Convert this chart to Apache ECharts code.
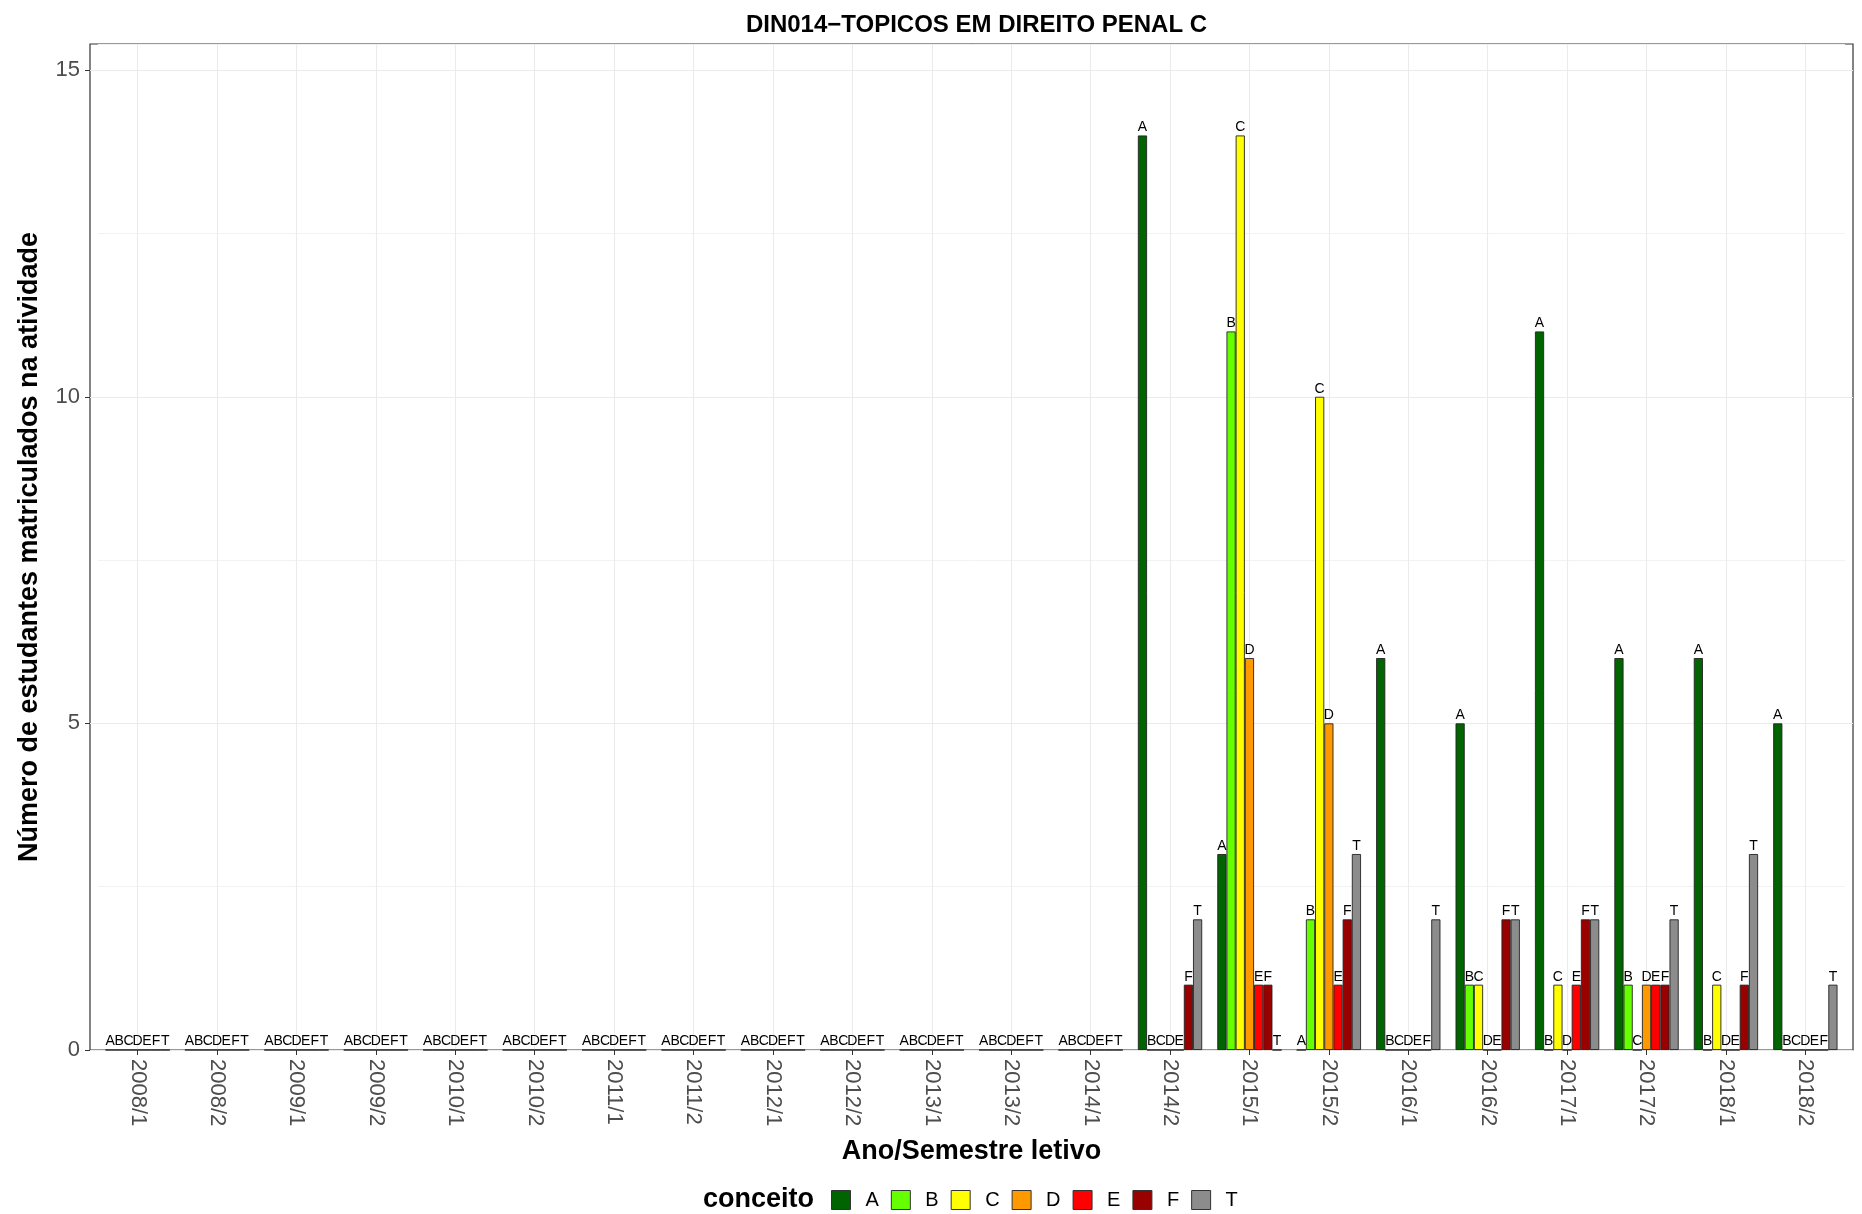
<!DOCTYPE html>
<html>
<head>
<meta charset="utf-8">
<script src="https://cdn.jsdelivr.net/npm/echarts@6/dist/echarts.min.js"></script>
<style>html,body{margin:0;padding:0;background:#fff}#c{width:1862px;height:1214px}</style>
</head>
<body>
<div id="c"></div>
<script>
const categories = ['2008/1','2008/2','2009/1','2009/2','2010/1','2010/2','2011/1','2011/2','2012/1','2012/2','2013/1','2013/2','2014/1','2014/2','2015/1','2015/2','2016/1','2016/2','2017/1','2017/2','2018/1','2018/2'];
const seriesNames = ['A','B','C','D','E','F','T'];
const seriesColors = ['#006400','#66FF00','#FFFF00','#FF9900','#FF0000','#990000','#8C8C8C'];
const valuesA = [0,0,0,0,0,0,0,0,0,0,0,0,0,14,3,0,6,5,11,6,6,5];
const valuesB = [0,0,0,0,0,0,0,0,0,0,0,0,0,0,11,2,0,1,0,1,0,0];
const valuesC = [0,0,0,0,0,0,0,0,0,0,0,0,0,0,14,10,0,1,1,0,1,0];
const valuesD = [0,0,0,0,0,0,0,0,0,0,0,0,0,0,6,5,0,0,0,1,0,0];
const valuesE = [0,0,0,0,0,0,0,0,0,0,0,0,0,0,1,1,0,0,1,1,0,0];
const valuesF = [0,0,0,0,0,0,0,0,0,0,0,0,0,1,1,2,0,2,2,1,1,0];
const valuesT = [0,0,0,0,0,0,0,0,0,0,0,0,0,2,0,3,2,2,2,2,3,1];
const yTicks = [0,5,10,15];
const chartTitle = 'DIN014\u2212TOPICOS EM DIREITO PENAL C';
const xTitle = 'Ano/Semestre letivo';
const yTitle = 'Número de estudantes matriculados na atividade';
const legendTitle = 'conceito';

const allValues = [valuesA,valuesB,valuesC,valuesD,valuesE,valuesF,valuesT];
const FONT = '"Liberation Sans", Arial, Helvetica, sans-serif';
const YMAX = 15.4;

// layout (ggplot-like panel with 0.6 category expansion)
const W = 1862;
const panelL = 90, panelR = 1853, panelT = 44, panelB = 1050;
const unit = (panelR - panelL) / (categories.length - 1 + 1.2);
const firstC = panelL + 0.6 * unit;
const lastC = firstC + (categories.length - 1) * unit;
const dataL = firstC - unit / 2, dataR = lastC + unit / 2;

const chart = echarts.init(document.getElementById('c'), null, {renderer: 'canvas'});

const series = seriesNames.map((n, i) => ({
  name: n,
  type: 'bar',
  xAxisIndex: 1,
  yAxisIndex: 1,
  data: allValues[i],
  barGap: '0%',
  barCategoryGap: '19%',
  itemStyle: {color: seriesColors[i], borderColor: '#222', borderWidth: 0.9},
  label: {
    show: true,
    position: 'top',
    distance: 1,
    formatter: () => n,
    color: '#000',
    fontSize: 14,
    fontFamily: FONT
  },
  emphasis: {disabled: true}
}));

chart.setOption({
  animation: false,
  backgroundColor: '#fff',
  textStyle: {fontFamily: FONT},
  title: [
    {text: chartTitle, left: (panelL + panelR) / 2, textAlign: 'center', top: 8,
     textStyle: {fontSize: 24, fontWeight: 'bold', color: '#000', fontFamily: FONT}},
    {text: legendTitle, left: 703, top: 1186, padding: 0,
     textStyle: {fontSize: 27, fontWeight: 'bold', color: '#000', fontFamily: FONT}}
  ],
  legend: {
    data: seriesNames,
    left: 831,
    top: 1190,
    padding: 0,
    itemWidth: 19,
    itemHeight: 19,
    itemGap: 12,
    icon: 'rect',
    itemStyle: {borderColor: '#333', borderWidth: 1},
    textStyle: {fontSize: 20, color: '#000', fontFamily: FONT, padding: [0, 0, 0, 10]},
    selectedMode: false
  },
  grid: [
    {left: panelL, right: W - panelR, top: panelT, bottom: 1214 - panelB, show: true,
     borderColor: '#333', borderWidth: 1.2, backgroundColor: 'transparent', containLabel: false},
    {left: dataL, right: W - dataR, top: panelT, bottom: 1214 - panelB, containLabel: false},
    {left: firstC, right: W - lastC, top: panelT, bottom: 1214 - panelB, containLabel: false}
  ],
  xAxis: [
    {gridIndex: 0, type: 'value', min: 0, max: 1, show: false},
    {gridIndex: 1, type: 'category', data: categories,
     axisLine: {show: false},
     axisTick: {show: true, alignWithLabel: true, length: 5, lineStyle: {color: '#333', width: 1}},
     axisLabel: {rotate: -90, margin: 9, fontSize: 22, color: '#4d4d4d', fontFamily: FONT, interval: 0},
     splitLine: {show: false},
     name: xTitle, nameLocation: 'middle', nameGap: 88,
     nameTextStyle: {fontSize: 27, fontWeight: 'bold', color: '#000', fontFamily: FONT}},
    {gridIndex: 2, type: 'value', min: 0, max: categories.length - 1, interval: 1,
     axisLine: {show: false}, axisTick: {show: false}, axisLabel: {show: false},
     splitLine: {show: true, lineStyle: {color: '#ebebeb', width: 1.1}}}
  ],
  yAxis: [
    {gridIndex: 0, type: 'value', min: 0, max: YMAX, interval: 5,
     axisLine: {show: false},
     axisTick: {show: true, length: 5, customValues: yTicks, lineStyle: {color: '#333', width: 1}},
     axisLabel: {show: true, customValues: yTicks, margin: 10, fontSize: 22, color: '#4d4d4d', fontFamily: FONT},
     splitLine: {show: true, lineStyle: {color: '#ebebeb', width: 1.1}},
     name: yTitle, nameLocation: 'middle', nameGap: 47,
     nameTextStyle: {fontSize: 27, fontWeight: 'bold', color: '#000', fontFamily: FONT}},
    {gridIndex: 1, type: 'value', min: 0, max: YMAX, interval: 2.5,
     axisLine: {show: false}, axisTick: {show: false}, axisLabel: {show: false},
     splitLine: {show: true, lineStyle: {color: ['rgba(0,0,0,0)', '#f2f2f2'], width: 1}}},
    {gridIndex: 2, type: 'value', min: 0, max: YMAX, show: false, splitLine: {show: false}}
  ],
  series: series
});
</script>
</body>
</html>
